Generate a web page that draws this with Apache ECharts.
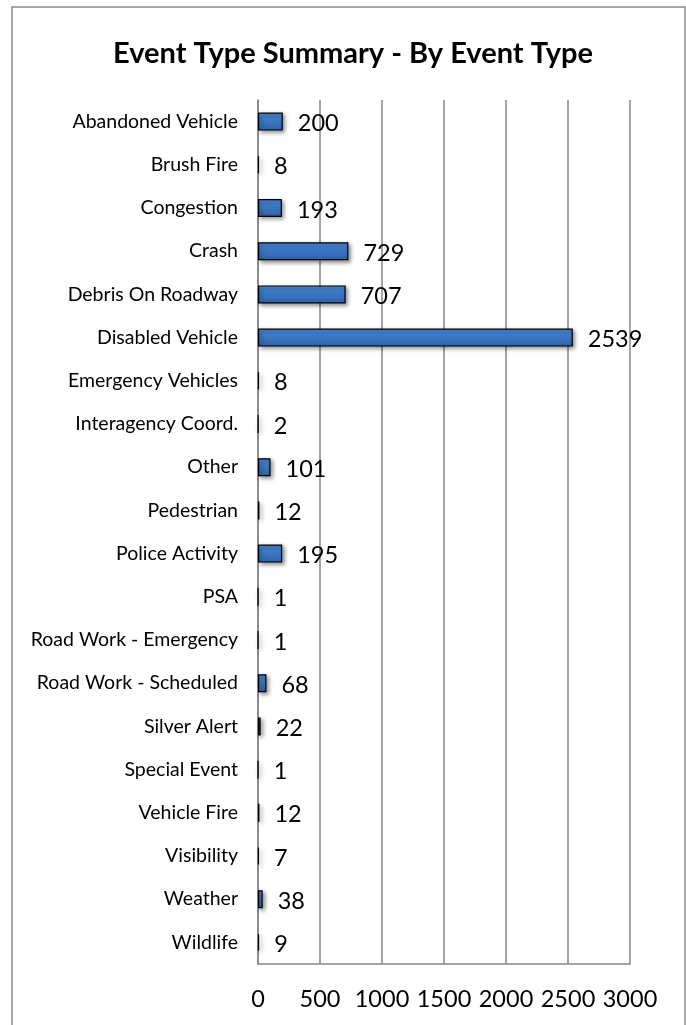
<!DOCTYPE html>
<html><head><meta charset="utf-8">
<script src="https://cdn.jsdelivr.net/npm/echarts@6/dist/echarts.min.js"></script>
<style>html,body{margin:0;padding:0;background:#fff}#c{width:686px;height:1025px}</style>
</head><body><div id="c"></div>
<script>
const categories = ["Abandoned Vehicle","Brush Fire","Congestion","Crash","Debris On Roadway","Disabled Vehicle","Emergency Vehicles","Interagency Coord.","Other","Pedestrian","Police Activity","PSA","Road Work - Emergency","Road Work - Scheduled","Silver Alert","Special Event","Vehicle Fire","Visibility","Weather","Wildlife"];
const values = [200,8,193,729,707,2539,8,2,101,12,195,1,1,68,22,1,12,7,38,9];
const xTicks = [0,500,1000,1500,2000,2500,3000];
const titleText = "Event Type Summary - By Event Type";

const chart = echarts.init(document.getElementById('c'), null, {renderer:'canvas'});
const font = "Lato, sans-serif";
chart.setOption({
  animation:false,
  backgroundColor:'#fff',
  title:{text:titleText,left:108,top:34,
    textStyle:{fontFamily:font,fontWeight:'bold',fontSize:29,color:'#000'}},
  graphic:[{type:'rect',shape:{x:12,y:7,width:673,height:1030},
    style:{fill:'none',stroke:'#8c8c8c',lineWidth:1.5},silent:true}],
  grid:{left:258,right:56,top:100,bottom:61},
  xAxis:{type:'value',min:xTicks[0],max:xTicks[xTicks.length-1],interval:500,
    axisLine:{show:true,lineStyle:{color:'#868686',width:1.5}},
    axisTick:{show:false},
    splitLine:{show:true,lineStyle:{color:'#868686',width:1.5}},
    axisLabel:{fontFamily:font,fontSize:23.5,color:'#000',margin:23,
      formatter:v=>xTicks.includes(v)?String(v):''}},
  yAxis:{type:'category',data:categories,inverse:true,
    axisLine:{show:true,lineStyle:{color:'#868686',width:1.5}},
    axisTick:{show:false},
    axisLabel:{fontFamily:font,fontSize:19.5,color:'#000',margin:20}},
  series:[{type:'bar',data:values,barWidth:18,
    itemStyle:{color:new echarts.graphic.LinearGradient(0,0,0,1,[
      {offset:0,color:'#4a88d6'},{offset:1,color:'#2c63ad'}]),
      borderColor:'#000',borderWidth:1.2,
      shadowColor:'rgba(0,0,0,0.45)',shadowBlur:4,shadowOffsetX:2,shadowOffsetY:2},
    label:{show:true,position:'right',distance:15,offset:[0,2],fontFamily:font,fontSize:23.5,color:'#000'}}]
});
</script></body></html>
